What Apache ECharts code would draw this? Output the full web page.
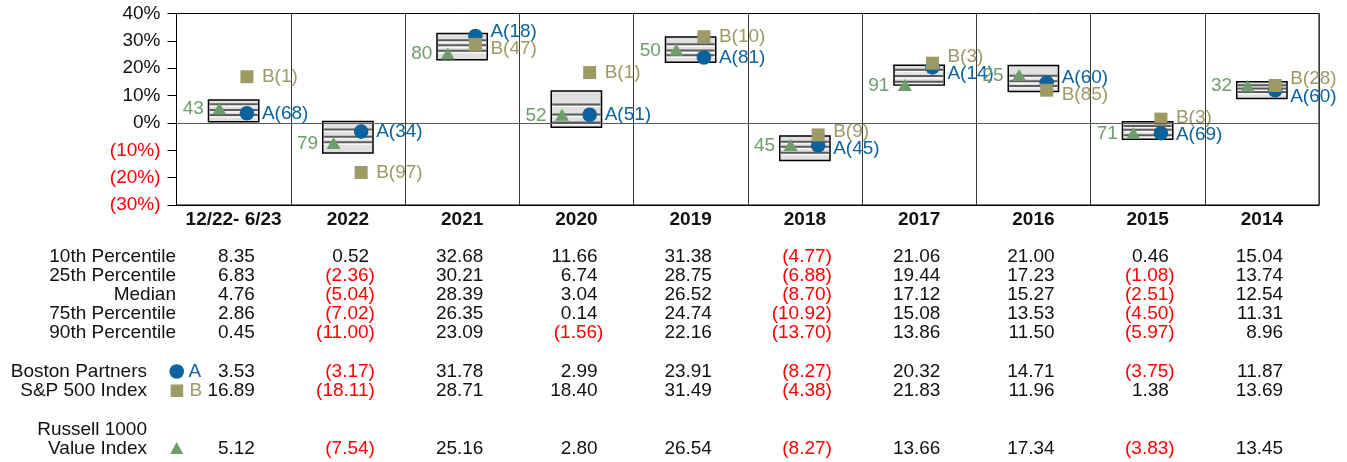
<!DOCTYPE html>
<html>
<head>
<meta charset="utf-8">
<script src="https://cdn.jsdelivr.net/npm/echarts@6/dist/echarts.min.js"></script>
<style>
  html, body { margin: 0; padding: 0; background: #ffffff; }
  #chart { width: 1347px; height: 462px; }
</style>
</head>
<body>
<div id="chart"></div>
<script>
// Periods shown on the category axis
const categories = ['12/22- 6/23', '2022', '2021', '2020', '2019', '2018', '2017', '2016', '2015', '2014'];

// Peer universe percentiles (10th = best return, top of the box)
const p10    = [8.35, 0.52, 32.68, 11.66, 31.38, -4.77, 21.06, 21.00, 0.46, 15.04];
const p25    = [6.83, -2.36, 30.21, 6.74, 28.75, -6.88, 19.44, 17.23, -1.08, 13.74];
const median = [4.76, -5.04, 28.39, 3.04, 26.52, -8.70, 17.12, 15.27, -2.51, 12.54];
const p75    = [2.86, -7.02, 26.35, 0.14, 24.74, -10.92, 15.08, 13.53, -4.50, 11.31];
const p90    = [0.45, -11.00, 23.09, -1.56, 22.16, -13.70, 13.86, 11.50, -5.97, 8.96];

// A: Boston Partners, B: S&P 500 Index, triangle: Russell 1000 Value Index
const bostonPartners = [3.53, -3.17, 31.78, 2.99, 23.91, -8.27, 20.32, 14.71, -3.75, 11.87];
const bostonRanks    = [68, 34, 18, 51, 81, 45, 14, 60, 69, 60];
const sp500          = [16.89, -18.11, 28.71, 18.40, 31.49, -4.38, 21.83, 11.96, 1.38, 13.69];
const sp500Ranks     = [1, 97, 47, 1, 10, 9, 3, 85, 3, 28];
const russellValue   = [5.12, -7.54, 25.16, 2.80, 26.54, -8.27, 13.66, 17.34, -3.83, 13.45];
const russellRanks   = [43, 79, 80, 52, 50, 45, 91, 25, 71, 32];

// Return axis (percent)
const yMin = -30, yMax = 40, yStep = 10;

// Table row headings
const percentileRows = ['10th Percentile', '25th Percentile', 'Median', '75th Percentile', '90th Percentile'];

const FONT = '"Liberation Sans", Arial, Helvetica, sans-serif';
const FS = 19;
const BLUE = '#0b629e';
const OLIVE = '#9d9a66';
const GREEN = '#6c9d6a';
const RED = '#ff0000';
const INK = '#111111';

const chart = echarts.init(document.getElementById('chart'), null, { renderer: 'canvas' });

function fmtValue(v) {
  return v < 0 ? '(' + Math.abs(v).toFixed(2) + ')' : v.toFixed(2);
}

// Vertical placement of the A/B labels, pushed apart when they would collide
function abLabelY(api, i) {
  const ya = api.coord([i, bostonPartners[i]])[1];
  const yb = api.coord([i, sp500[i]])[1];
  const minGap = 17.5;
  if (Math.abs(ya - yb) >= minGap) return { a: ya, b: yb };
  const mid = (ya + yb) / 2;
  if (ya <= yb) return { a: mid - minGap / 2, b: mid + minGap / 2 };
  return { a: mid + minGap / 2, b: mid - minGap / 2 };
}

const boxSeries = {
  type: 'custom',
  name: 'Percentile range',
  clip: false,
  z: 2,
  encode: { x: 0, y: [1, 2] },
  data: categories.map((c, i) => [i, p10[i], p90[i]]),
  renderItem: function (params, api) {
    const i = params.dataIndex;
    const top = api.coord([i, p10[i]]);
    const bot = api.coord([i, p90[i]]);
    const bw = api.size([1, 0])[0] * 0.44;
    const x0 = top[0] - bw / 2;
    const children = [{
      type: 'rect',
      shape: { x: x0, y: top[1], width: bw, height: bot[1] - top[1] },
      style: { fill: '#e0e0e0', stroke: '#000000', lineWidth: 1.5 }
    }];
    [p25[i], median[i], p75[i]].forEach(function (v) {
      const y = api.coord([i, v])[1];
      children.push({
        type: 'line',
        shape: { x1: x0 + 1, y1: y, x2: x0 + bw - 1, y2: y },
        style: { stroke: '#5c5c5c', lineWidth: 2 }
      });
      children.push({
        type: 'line',
        shape: { x1: x0 + 1, y1: y + 2, x2: x0 + bw - 1, y2: y + 2 },
        style: { stroke: '#ffffff', lineWidth: 1 }
      });
    });
    return { type: 'group', children: children };
  },
  markLine: {
    silent: true,
    symbol: 'none',
    label: { show: false },
    lineStyle: { color: '#5a5a5a', width: 1.2, type: 'solid' },
    data: [{ yAxis: 0 }]
  }
};

const bostonSeries = {
  type: 'custom',
  name: 'Boston Partners',
  clip: false,
  z: 3,
  encode: { x: 0, y: 1 },
  data: categories.map((c, i) => [i, bostonPartners[i]]),
  renderItem: function (params, api) {
    const i = params.dataIndex;
    const p = api.coord([i, bostonPartners[i]]);
    const cx = p[0] + 13.3;
    const ly = abLabelY(api, i).a;
    return {
      type: 'group',
      children: [
        { type: 'circle', shape: { cx: cx, cy: p[1], r: 7.3 }, style: { fill: BLUE } },
        { type: 'text', style: { text: 'A(' + bostonRanks[i] + ')', x: cx + 15, y: ly, fill: BLUE,
          fontSize: FS, fontFamily: FONT, align: 'left', verticalAlign: 'middle' } }
      ]
    };
  }
};

const spSeries = {
  type: 'custom',
  name: 'S&P 500 Index',
  clip: false,
  z: 4,
  encode: { x: 0, y: 1 },
  data: categories.map((c, i) => [i, sp500[i]]),
  renderItem: function (params, api) {
    const i = params.dataIndex;
    const p = api.coord([i, sp500[i]]);
    const cx = p[0] + 13.3;
    const ly = abLabelY(api, i).b;
    const s = 13;
    return {
      type: 'group',
      children: [
        { type: 'rect', shape: { x: cx - s / 2, y: p[1] - s / 2, width: s, height: s }, style: { fill: OLIVE } },
        { type: 'text', style: { text: 'B(' + sp500Ranks[i] + ')', x: cx + 15, y: ly, fill: OLIVE,
          fontSize: FS, fontFamily: FONT, align: 'left', verticalAlign: 'middle' } }
      ]
    };
  }
};

const russellSeries = {
  type: 'custom',
  name: 'Russell 1000 Value Index',
  clip: false,
  z: 5,
  encode: { x: 0, y: 1 },
  data: categories.map((c, i) => [i, russellValue[i]]),
  renderItem: function (params, api) {
    const i = params.dataIndex;
    const p = api.coord([i, russellValue[i]]);
    const cx = p[0] - 14.3;
    const cy = p[1];
    return {
      type: 'group',
      children: [
        { type: 'polygon', shape: { points: [[cx, cy - 6.5], [cx + 7, cy + 5.5], [cx - 7, cy + 5.5]] }, style: { fill: GREEN } },
        { type: 'text', style: { text: String(russellRanks[i]), x: cx - 15.5, y: cy, fill: GREEN,
          fontSize: FS, fontFamily: FONT, align: 'right', verticalAlign: 'middle' } }
      ]
    };
  }
};

chart.setOption({
  animation: false,
  backgroundColor: '#ffffff',
  grid: {
    left: 176.5, right: 28, top: 13.5, bottom: 257,
    show: true, borderColor: '#000000', borderWidth: 1, backgroundColor: 'transparent',
    containLabel: false
  },
  xAxis: {
    type: 'category',
    data: categories,
    boundaryGap: true,
    axisLine: { show: true, onZero: false, lineStyle: { color: '#000000', width: 1 } },
    axisTick: { show: false },
    splitLine: { show: true, interval: 0, lineStyle: { color: '#3a3a3a', width: 1 } },
    axisLabel: {
      interval: 0, margin: 5, color: INK,
      fontFamily: FONT, fontSize: FS, fontWeight: 'bold'
    }
  },
  yAxis: {
    type: 'value',
    min: yMin, max: yMax, interval: yStep,
    axisLine: { show: true, lineStyle: { color: '#000000', width: 1 } },
    axisTick: { show: true, inside: false, length: 9, lineStyle: { color: '#000000', width: 1 } },
    splitLine: { show: false },
    axisLabel: {
      margin: 16,
      fontFamily: FONT, fontSize: FS,
      formatter: function (v) {
        return v < 0 ? '{neg|(' + Math.abs(v) + '%)}' : '{pos|' + v + '%}';
      },
      rich: {
        neg: { color: RED, fontFamily: FONT, fontSize: FS },
        pos: { color: INK, fontFamily: FONT, fontSize: FS }
      }
    }
  },
  series: [boxSeries, bostonSeries, spSeries, russellSeries]
});

// Summary table underneath the plot, aligned to the category columns
function buildTable() {
  const g = [];
  const txt = function (s, x, y, color, align) {
    g.push({
      type: 'text', x: x, y: y, silent: true,
      style: { text: s, fill: color, fontSize: FS, fontFamily: FONT, align: align || 'right', verticalAlign: 'middle' }
    });
  };
  const rowY = [256.5, 275.5, 294.5, 313.5, 332.5];
  const bpY = 371.5, spY = 390.5, ruY1 = 429.5, ruY2 = 448.5;
  const headX = 176;

  percentileRows.forEach(function (label, r) { txt(label, headX, rowY[r], INK); });
  txt('Boston Partners', 147, bpY, INK);
  txt('S&P 500 Index', 147, spY, INK);
  txt('Russell 1000', 147, ruY1, INK);
  txt('Value Index', 147, ruY2, INK);

  // legend keys
  g.push({ type: 'circle', silent: true, shape: { cx: 176.7, cy: bpY, r: 7.3 }, style: { fill: BLUE } });
  txt('A', 188.5, bpY, BLUE, 'left');
  g.push({ type: 'rect', silent: true, shape: { x: 170.7, y: spY - 6, width: 12.5, height: 12.5 }, style: { fill: OLIVE } });
  txt('B', 189.5, spY, OLIVE, 'left');
  g.push({ type: 'polygon', silent: true, shape: { points: [[176.7, ruY2 - 6.5], [183.2, ruY2 + 5.5], [170.2, ruY2 + 5.5]] }, style: { fill: GREEN } });

  const tableRows = [
    [p10, rowY[0]], [p25, rowY[1]], [median, rowY[2]], [p75, rowY[3]], [p90, rowY[4]],
    [bostonPartners, bpY], [sp500, spY], [russellValue, ruY2]
  ];
  categories.forEach(function (c, i) {
    const cx = chart.convertToPixel({ xAxisIndex: 0 }, i);
    tableRows.forEach(function (row) {
      const v = row[0][i];
      const neg = v < 0;
      txt(fmtValue(v), neg ? cx + 27 : cx + 21.3, row[1], neg ? RED : INK);
    });
  });
  return g;
}

chart.setOption({ graphic: { elements: buildTable() } });
</script>
</body>
</html>
